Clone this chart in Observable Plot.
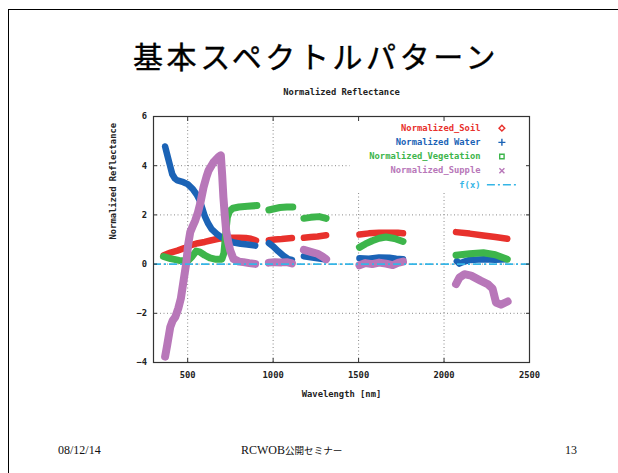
<!DOCTYPE html>
<html>
<head>
<meta charset="utf-8">
<script src="https://cdn.jsdelivr.net/npm/d3@7"></script>
<script src="https://cdn.jsdelivr.net/npm/@observablehq/plot@0.6"></script>
<style>
  html, body { margin: 0; padding: 0; background: #fff; }
  #slide { position: relative; width: 618px; height: 473px; overflow: hidden; background: #fff; }
  #edge { position: absolute; left: 8px; top: 9px; width: 700px; height: 600px;
          border-left: 1.3px solid #000; border-top: 1.3px solid #000; }
  #title { position: absolute; left: 133px; top: 40px; white-space: nowrap;
           font-family: "Noto Sans CJK JP", sans-serif; font-size: 30px; line-height: 30px;
           letter-spacing: 3.6px; color: #000; -webkit-text-stroke: 0.4px #000; }
  #chart { position: absolute; left: 0; top: 80px; }
  .foot { position: absolute; top: 443.5px; font-family: "Liberation Serif", "Noto Sans CJK JP", serif;
          font-size: 12px; line-height: 12px; color: #111; white-space: nowrap; }
  .foot .jp { font-family: "Noto Sans CJK JP", sans-serif; font-size: 9.6px; }
</style>
</head>
<body>
<div id="slide">
  <div id="edge"></div>
  <div id="title">基本スペクトルパターン</div>
  <div id="chart"></div>
  <div class="foot" style="left:58px">08/12/14</div>
  <div class="foot" style="left:191.7px;width:200px;text-align:center">RCWOB<span class="jp">公開セミナー</span></div>
  <div class="foot" style="left:565px">13</div>
</div>
<script>
// Spectra (wavelength in nm, normalized reflectance); each series is split into
// the bands kept after removing the water-absorption regions.
const soilSegments = [
  [[360,0.36],[400,0.47],[440,0.55],[480,0.65],[520,0.77],[560,0.85],[600,0.9],[640,0.97],[680,1.03],[720,1.06],[760,1.07],[800,1.07],[840,1.06],[870,1.03],[900,0.96]],
  [[975,0.97],[1010,1.0],[1050,1.02],[1080,1.04],[1110,1.06]],
  [[1180,1.07],[1220,1.1],[1260,1.12],[1290,1.15],[1310,1.17]],
  [[1505,1.2],[1560,1.25],[1620,1.27],[1680,1.27],[1730,1.27],[1760,1.25]],
  [[2070,1.3],[2150,1.24],[2230,1.16],[2300,1.1],[2370,1.03]]
];
const waterSegments = [
  [[368,4.78],[380,4.45],[395,4.05],[410,3.65],[425,3.48],[440,3.4],[475,3.33],[500,3.25],[530,3.05],[555,2.8],[570,2.6],[585,2.28],[600,1.95],[620,1.65],[640,1.42],[670,1.23],[700,1.08],[730,0.96],[770,0.88],[810,0.83],[850,0.8],[885,0.76],[895,0.75]],
  [[975,0.85],[1000,0.72],[1030,0.52],[1060,0.34],[1090,0.2],[1110,0.17]],
  [[1180,0.32],[1220,0.28],[1260,0.24],[1310,0.19]],
  [[1505,0.24],[1560,0.22],[1620,0.27],[1680,0.26],[1720,0.22],[1760,0.2]],
  [[2075,0.12],[2090,0.02],[2110,0.08],[2150,0.17],[2230,0.2],[2300,0.18],[2365,0.2]]
];
const vegetationSegments = [
  [[358,0.31],[400,0.22],[450,0.15],[500,0.13],[525,0.3],[550,0.53],[570,0.5],[600,0.36],[630,0.25],[660,0.2],[700,0.2],[712,0.45],[722,1.2],[732,1.9],[745,2.15],[765,2.27],[800,2.32],[850,2.35],[905,2.38]],
  [[975,2.2],[1000,2.24],[1040,2.3],[1080,2.32],[1115,2.32]],
  [[1180,1.86],[1220,1.9],[1270,1.93],[1310,1.86]],
  [[1505,0.68],[1540,0.82],[1580,0.95],[1620,1.05],[1660,1.1],[1710,1.04],[1760,0.92]],
  [[2070,0.36],[2150,0.42],[2230,0.46],[2300,0.38],[2370,0.2]]
];
const suppleSegments = [
  [[368,-3.76],[380,-3.3],[398,-2.56],[412,-2.3],[427,-2.16],[445,-1.8],[460,-1.4],[476,-0.67],[491,0.01],[503,0.8],[515,1.3],[530,1.55],[544,1.77],[560,2.1],[573,2.45],[593,3.13],[610,3.55],[622,3.8],[651,4.14],[680,4.35],[694,4.42],[702,3.6],[709,2.72],[717,2.0],[725,1.37],[737,0.9],[749,0.55],[768,0.21],[800,0.1],[826,0.08],[860,0.04],[895,0.01]],
  [[975,0.06],[1010,0.08],[1050,0.07],[1080,0.08],[1110,0.03]],
  [[1180,0.58],[1220,0.5],[1260,0.42],[1290,0.3],[1310,0.2]],
  [[1505,-0.05],[1540,0.04],[1580,0.0],[1620,0.06],[1660,0.02],[1700,-0.04],[1730,0.05],[1760,0.1]],
  [[2070,-0.81],[2090,-0.55],[2119,-0.41],[2158,-0.47],[2216,-0.68],[2255,-0.81],[2284,-1.0],[2304,-1.56],[2333,-1.65],[2372,-1.52]]
];
const fx = [0];

const seriesNames = ["Normalized_Soil", "Normalized Water", "Normalized_Vegetation", "Normalized_Supple", "f(x)"];
const seriesColors = ["#e8312c", "#1b63b6", "#3db54b", "#b877b9", "#35b5e6"];

const xDomain = [300, 2500];
const yDomain = [-4, 6];
const xTicks = [500, 1000, 1500, 2000, 2500];
const yTicks = [-4, -2, 0, 2, 4, 6];
const xGrid = [500, 1000, 1500, 2000];
const yGrid = [-2, 0, 2, 4];
// area kept clear of grid lines behind the key
const keyArea = {x1: 1450, y1: 2.87};

const toRows = (segments) =>
  segments.flatMap((seg, i) => seg.map(([w, v]) => ({w, v, seg: i})));
const seriesRows = [soilSegments, waterSegments, vegetationSegments, suppleSegments].map(toRows);
const bandWidths = [6.5, 6.5, 7, 8];

const dashLine = { draw(ctx) { ctx.moveTo(-15, 0); ctx.lineTo(15, 0); } };
const keySymbols = ["diamond2", "plus", "square2", "times", dashLine];
const keySizes = [2.6, 2.4, 2.8, 2.4, 4];

const marks = [];
// dotted grid
marks.push(Plot.ruleX(xGrid, {x: d => d, y1: yDomain[0], y2: d => d >= keyArea.x1 ? keyArea.y1 : yDomain[1],
  stroke: "#8a8a8a", strokeDasharray: "1,2.5", strokeWidth: 1}));
marks.push(Plot.ruleY(yGrid, {y: d => d, x1: xDomain[0], x2: d => d >= keyArea.y1 ? keyArea.x1 : xDomain[1],
  stroke: "#8a8a8a", strokeDasharray: "1,2.5", strokeWidth: 1}));
// spectra
seriesRows.forEach((rows, i) => {
  marks.push(Plot.line(rows, {x: "w", y: "v", z: "seg", stroke: seriesColors[i],
    strokeWidth: bandWidths[i], strokeLinecap: "round", strokeLinejoin: "round"}));
});
// f(x) = 0
marks.push(Plot.ruleY(fx, {y: d => d, stroke: seriesColors[4], strokeWidth: 1.6, strokeDasharray: "8,3,2,3"}));
// frame and axes
marks.push(Plot.frame({stroke: "#333", strokeWidth: 1.2}));
marks.push(Plot.axisX({ticks: xTicks, tickSize: 0, tickPadding: 9, tickFormat: "d", label: null, fill: "#222"}));
marks.push(Plot.axisY({ticks: yTicks, tickSize: 0, tickPadding: 6.5, label: null, fill: "#222"}));
marks.push(Plot.axisX({ticks: xTicks, anchor: "bottom", tickSize: 4, dy: -4, tickFormat: () => "", label: null, stroke: "#333"}));
marks.push(Plot.axisX({ticks: xTicks, anchor: "top", tickSize: 4, dy: 4, tickFormat: () => "", label: null, stroke: "#333"}));
marks.push(Plot.axisY({ticks: yTicks, anchor: "left", tickSize: 4, dx: 4, tickFormat: () => "", label: null, stroke: "#333"}));
marks.push(Plot.axisY({ticks: yTicks, anchor: "right", tickSize: 4, dx: -4, tickFormat: () => "", label: null, stroke: "#333"}));
// titles
marks.push(Plot.text(["Normalized Reflectance"], {frameAnchor: "top", lineAnchor: "middle", dy: -24, fill: "#222"}));
marks.push(Plot.text(["Wavelength [nm]"], {frameAnchor: "bottom", lineAnchor: "middle", dy: 32, fill: "#222"}));
marks.push(Plot.text(["Normalized Reflectance"], {frameAnchor: "left", lineAnchor: "middle", dx: -40, rotate: -90, fill: "#222"}));
// key
seriesNames.forEach((name, i) => {
  const dy = 11.7 + i * 14.15;
  marks.push(Plot.text([name], {frameAnchor: "top-right", lineAnchor: "middle", dx: -49, dy, textAnchor: "end", fill: seriesColors[i]}));
  marks.push(Plot.dot([name], {frameAnchor: "top-right", dx: -27.6, dy, symbol: keySymbols[i],
    r: keySizes[i], stroke: seriesColors[i], strokeWidth: 1.4,
    strokeDasharray: i === 4 ? "8,3,2,3" : null}));
});

const chart = Plot.plot({
  width: 618,
  height: 330,
  marginLeft: 153,
  marginRight: 89,
  marginTop: 36,
  marginBottom: 48,
  x: {domain: xDomain},
  y: {domain: yDomain},
  style: {fontFamily: "'DejaVu Sans Mono', monospace", fontWeight: "bold", fontSize: "8.8px", background: "transparent", color: "#222"},
  marks
});
document.getElementById("chart").appendChild(chart);
</script>
</body>
</html>
